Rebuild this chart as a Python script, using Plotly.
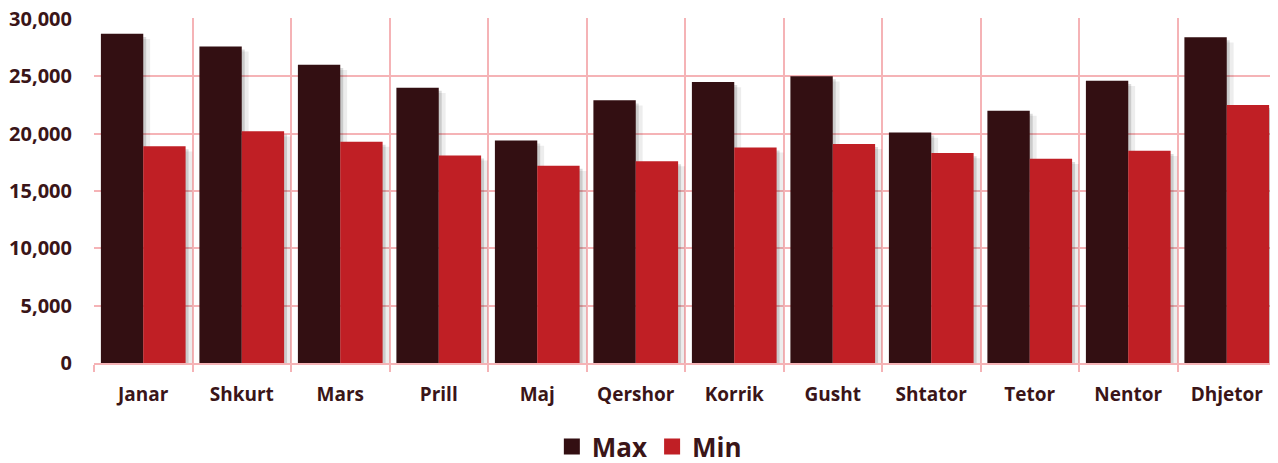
import plotly.graph_objects as go

months = ["Janar", "Shkurt", "Mars", "Prill", "Maj", "Qershor", "Korrik",
          "Gusht", "Shtator", "Tetor", "Nentor", "Dhjetor"]
max_vals = [28700, 27600, 26000, 24000, 19400, 22900, 24500, 25000, 20100, 22000, 24600, 28400]
min_vals = [18900, 20200, 19300, 18100, 17200, 17600, 18800, 19100, 18300, 17800, 18500, 22500]
y_ticks = [0, 5000, 10000, 15000, 20000, 25000, 30000]

grid = "#f5b3b6"
txt = "#3a1518"
max_color = "#330f12"
min_color = "#c01f25"
font_family = "Open Sans, Liberation Sans, Arial, sans-serif"

bar_w = 0.43
shadow_dx = 0.05
shadow_dy = -450

fig = go.Figure()
# soft drop shadows (same data, shifted)
for vals, off in [(max_vals, -bar_w), (min_vals, 0.0)]:
    fig.add_trace(go.Bar(x=months, y=vals, base=shadow_dy, offset=off + shadow_dx + 0.02,
                         width=bar_w, marker_color="rgba(0,0,0,0.07)", marker_line_width=0,
                         showlegend=False, hoverinfo="skip"))
    fig.add_trace(go.Bar(x=months, y=vals, base=shadow_dy * 0.6, offset=off + shadow_dx * 0.6,
                         width=bar_w, marker_color="rgba(0,0,0,0.14)", marker_line_width=0,
                         showlegend=False, hoverinfo="skip"))

fig.add_trace(go.Bar(name="Max", x=months, y=max_vals, offset=-bar_w, width=bar_w,
                     marker_color=max_color, marker_line_width=0, showlegend=False))
fig.add_trace(go.Bar(name="Min", x=months, y=min_vals, offset=0.0, width=bar_w,
                     marker_color=min_color, marker_line_width=0, showlegend=False))

# legend entries with larger square symbols
for name, col in [("Max", max_color), ("Min", min_color)]:
    fig.add_trace(go.Scatter(x=[None], y=[None], mode="markers", name=name,
                             marker=dict(symbol="square", size=17, color=col)))

fig.update_layout(
    width=1270, height=455,
    barmode="overlay",
    plot_bgcolor="white", paper_bgcolor="white",
    margin=dict(l=86, r=2, t=10, b=100, autoexpand=False),
    font=dict(family=font_family, color=txt),
    legend=dict(orientation="h", xref="container", yref="paper",
                x=0.505, xanchor="center", y=-0.242, yanchor="middle",
                font=dict(size=26, color=txt, family=font_family, weight="bold"),
                itemwidth=30, traceorder="normal", tracegroupgap=0),
    showlegend=True,
)
fig.update_xaxes(
    type="category", tickson="boundaries", showgrid=True, gridcolor=grid, gridwidth=2,
    ticks="outside", ticklen=7, tickcolor=grid, tickwidth=2,
    showline=True, linecolor=grid, linewidth=2, automargin=False,
    range=[-0.5, 11.5],
    tickfont=dict(size=19, color=txt, family=font_family, weight="bold"),
    ticklabelstandoff=13,
)
fig.update_yaxes(
    range=[0, 30080], tickvals=y_ticks, tickformat=",",
    showgrid=True, gridcolor=grid, gridwidth=2, zeroline=False,
    showline=False, automargin=False, ticklabeloverflow="allow",
    tickfont=dict(size=20, color=txt, family=font_family, weight="bold"),
    ticklabelstandoff=21,
)
fig.add_shape(type="line", xref="paper", yref="paper", x0=1, x1=1, y0=0, y1=1,
              line=dict(color=grid, width=2), layer="below")

fig.write_html("out.html")
